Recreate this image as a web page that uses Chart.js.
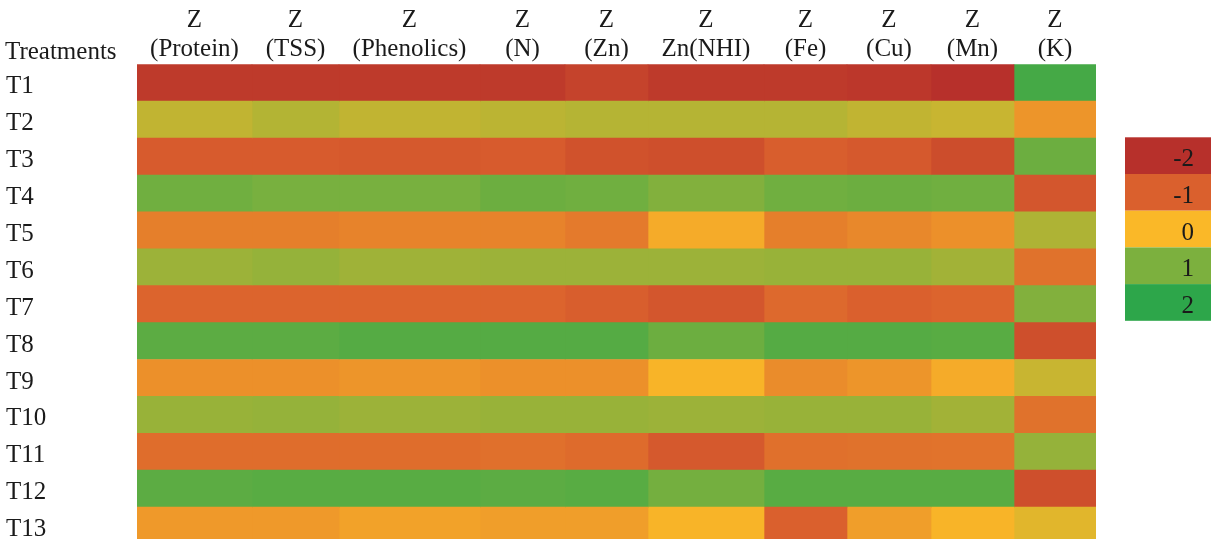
<!DOCTYPE html>
<html>
<head>
<meta charset="utf-8">
<script src="https://cdn.jsdelivr.net/npm/chart.js@4.4.1/dist/chart.umd.min.js"></script>
<style>
  html, body { margin: 0; padding: 0; background: #fff; overflow: hidden; }
  #wrap { width: 1211px; height: 539px; overflow: hidden; }
</style>
</head>
<body>
<div id="wrap"><canvas id="heat" width="1211" height="559"></canvas></div>
<script>
// rows and columns
const treatments = ['T1','T2','T3','T4','T5','T6','T7','T8','T9','T10','T11','T12','T13'];
const headers = [['Z','(Protein)'],['Z','(TSS)'],['Z','(Phenolics)'],['Z','(N)'],['Z','(Zn)'],
                 ['Z','Zn(NHI)'],['Z','(Fe)'],['Z','(Cu)'],['Z','(Mn)'],['Z','(K)']];

// z-scores per column
const zProtein   = [-1.8, 0.45, -1.1, 1.15, -0.65, 0.75, -0.95, 1.4, -0.45, 0.78, -0.85, 1.4, -0.35];
const zTSS       = [-1.8, 0.56, -1.1, 1.05, -0.65, 0.8, -0.95, 1.4, -0.45, 0.8, -0.85, 1.45, -0.35];
const zPhenolics = [-1.8, 0.45, -1.15, 1.05, -0.6, 0.72, -0.95, 1.5, -0.4, 0.75, -0.85, 1.45, -0.25];
const zN         = [-1.8, 0.5, -1.1, 1.2, -0.6, 0.75, -0.95, 1.5, -0.45, 0.78, -0.82, 1.4, -0.3];
const zZn        = [-1.6, 0.55, -1.3, 1.15, -0.7, 0.75, -1.05, 1.5, -0.45, 0.78, -0.88, 1.45, -0.3];
const zZnNHI     = [-1.8, 0.55, -1.35, 0.95, -0.15, 0.75, -1.2, 1.2, -0.05, 0.75, -1.15, 1.1, -0.05];
const zFe        = [-1.8, 0.55, -1.05, 1.15, -0.65, 0.78, -0.9, 1.5, -0.5, 0.78, -0.82, 1.45, -1.0];
const zCu        = [-1.85, 0.45, -1.15, 1.2, -0.55, 0.78, -1.0, 1.5, -0.4, 0.78, -0.8, 1.45, -0.3];
const zMn        = [-2.0, 0.4, -1.4, 1.15, -0.45, 0.7, -0.95, 1.45, -0.15, 0.7, -0.78, 1.45, -0.05];
const zK         = [1.7, -0.4, 1.2, -1.2, 0.6, -0.8, 0.95, -1.35, 0.4, -0.8, 0.8, -1.35, 0.2];
const columns = [zProtein, zTSS, zPhenolics, zN, zZn, zZnNHI, zFe, zCu, zMn, zK];

// colour scale legend
const legendTicks = [-2, -1, 0, 1, 2];

// layout: relative column widths (the original has uneven columns)
const colWidths = [115, 87, 141, 85, 83, 116, 83, 84, 83, 82];

const FONT = '"Liberation Serif", "Times New Roman", serif';
const INK = '#1a1a1a';

const stops = [
  [-2, [183, 48, 43]],
  [-1, [218, 96, 45]],
  [ 0, [250, 184, 40]],
  [ 1, [124, 176, 62]],
  [ 2, [ 45, 166, 74]]
];

function colorFor(v) {
  v = Math.max(-2, Math.min(2, v));
  for (let i = 0; i < stops.length - 1; i++) {
    const [a, ca] = stops[i], [b, cb] = stops[i + 1];
    if (v <= b) {
      const t = (v - a) / (b - a);
      const c = ca.map((x, k) => Math.round(x + (cb[k] - x) * t));
      return `rgb(${c[0]},${c[1]},${c[2]})`;
    }
  }
  return 'rgb(45,166,74)';
}

const edges = [0];
colWidths.forEach(w => edges.push(edges[edges.length - 1] + w));
const total = edges[edges.length - 1];
const centers = colWidths.map((w, i) => edges[i] + w / 2);

const datasets = columns.map((vals, j) => ({
  label: headers[j].join(' '),
  data: treatments.map(() => [edges[j], edges[j + 1]]),
  backgroundColor: vals.map(colorFor),
  borderWidth: 0,
  grouped: false,
  barPercentage: 1,
  categoryPercentage: 1,
  xAxisID: 'x'
}));

// title over the row labels + the colour key on the right
const extras = {
  id: 'extras',
  afterDraw(chart) {
    const ctx = chart.ctx;
    ctx.save();
    ctx.fillStyle = INK;
    ctx.font = `25px ${FONT}`;
    ctx.textAlign = 'left';
    ctx.textBaseline = 'alphabetic';
    ctx.fillText('Treatments', 5, 59);

    const bx = 1125, bw = 86, by = 137.3, bh = 36.7;
    ctx.font = `25px ${FONT}`;
    ctx.textAlign = 'right';
    ctx.textBaseline = 'middle';
    legendTicks.forEach((t, i) => {
      ctx.fillStyle = colorFor(t);
      ctx.fillRect(bx, by + i * bh, bw, bh);
      ctx.fillStyle = INK;
      ctx.fillText(String(t), 1194, by + i * bh + bh / 2 + 4);
    });
    ctx.restore();
  }
};

new Chart(document.getElementById('heat'), {
  type: 'bar',
  data: { labels: treatments, datasets },
  options: {
    indexAxis: 'y',
    responsive: false,
    animation: false,
    layout: { padding: { left: 6, right: 115, top: 0, bottom: 0 } },
    plugins: { legend: { display: false }, tooltip: { enabled: false } },
    scales: {
      x: { type: 'linear', display: false, min: 0, max: total },
      xTop: {
        type: 'linear', position: 'top', min: 0, max: total,
        grid: { display: false, drawTicks: false }, border: { display: false },
        afterBuildTicks: s => { s.ticks = centers.map(v => ({ value: v })); },
        afterFit: s => { s.height = 64.3; },
        ticks: {
          autoSkip: false, maxRotation: 0, padding: 0,
          color: INK, font: { family: FONT, size: 25, lineHeight: 1.16 },
          callback: (v, i) => headers[i]
        }
      },
      y: {
        type: 'category',
        grid: { display: false, drawTicks: false }, border: { display: false },
        afterFit: s => { s.width = 137 - 6; },
        ticks: {
          crossAlign: 'far', labelOffset: 4, padding: 0,
          color: INK, font: { family: FONT, size: 25 }
        }
      }
    }
  },
  plugins: [extras]
});
</script>
</body>
</html>
